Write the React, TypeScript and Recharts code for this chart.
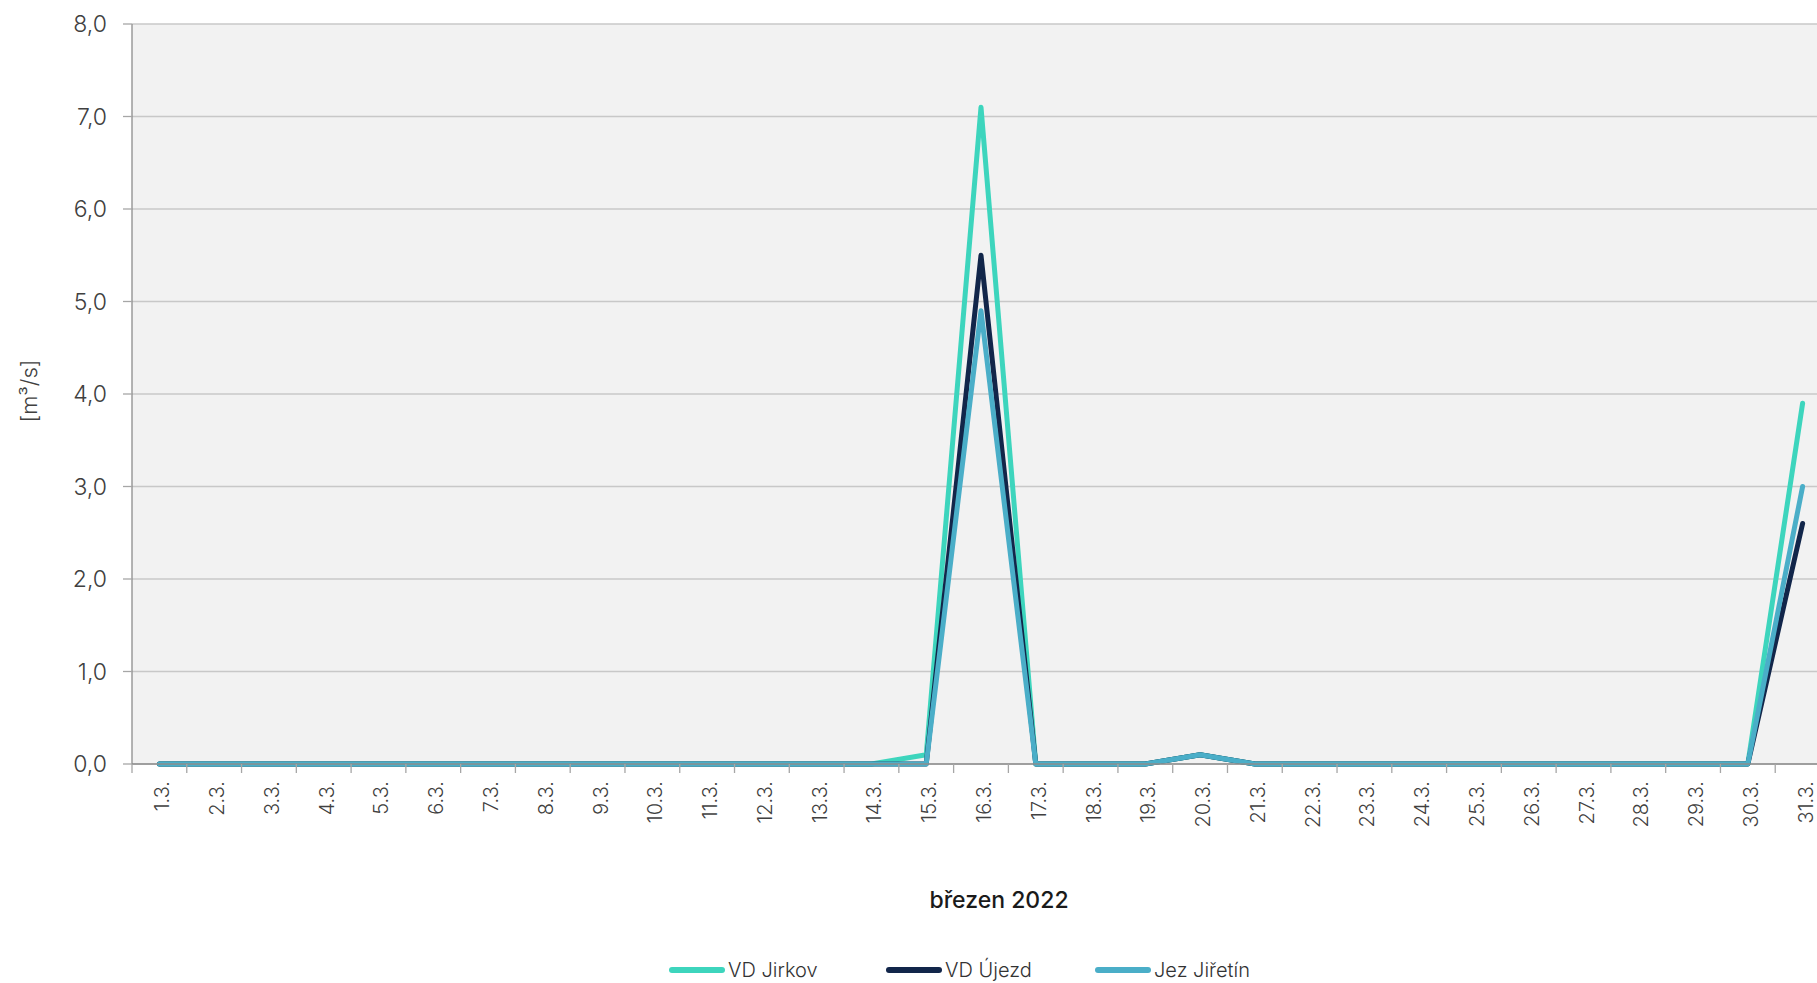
import { LineChart, Line, XAxis, YAxis, CartesianGrid, Legend, Label } from "recharts";

const days = [
  "1.3.", "2.3.", "3.3.", "4.3.", "5.3.", "6.3.", "7.3.", "8.3.", "9.3.", "10.3.",
  "11.3.", "12.3.", "13.3.", "14.3.", "15.3.", "16.3.", "17.3.", "18.3.", "19.3.", "20.3.",
  "21.3.", "22.3.", "23.3.", "24.3.", "25.3.", "26.3.", "27.3.", "28.3.", "29.3.", "30.3.", "31.3.",
];

const seriesNames = ["VD Jirkov", "VD Újezd", "Jez Jiřetín"];

const jirkov = [0, 0, 0, 0, 0, 0, 0, 0, 0, 0, 0, 0, 0, 0, 0.1, 7.1, 0, 0, 0, 0.1, 0, 0, 0, 0, 0, 0, 0, 0, 0, 0, 3.9];
const ujezd = [0, 0, 0, 0, 0, 0, 0, 0, 0, 0, 0, 0, 0, 0, 0, 5.5, 0, 0, 0, 0.1, 0, 0, 0, 0, 0, 0, 0, 0, 0, 0, 2.6];
const jiretin = [0, 0, 0, 0, 0, 0, 0, 0, 0, 0, 0, 0, 0, 0, 0, 4.9, 0, 0, 0, 0.1, 0, 0, 0, 0, 0, 0, 0, 0, 0, 0, 3.0];

const yTicks = [0, 1, 2, 3, 4, 5, 6, 7, 8];

const data = days.map((day, i) => ({
  day,
  jirkov: jirkov[i],
  ujezd: ujezd[i],
  jiretin: jiretin[i],
}));

const FONT = "Inter, 'Open Sans', sans-serif";
const PLOT_W = 1698;
const BAND = PLOT_W / days.length;

function DayTick({ x, y, payload }: { x?: number; y?: number; payload?: { value: string } }) {
  const tx = (x ?? 0) + 10;
  const ty = y ?? 0;
  const bx = (x ?? 0) - BAND / 2;
  return (
    <g>
      <line x1={bx} x2={bx} y1={ty - 17} y2={ty - 8} stroke="#a6a6a6" strokeWidth={1.3} />
      <text
        x={tx}
        y={ty}
        transform={`rotate(-90 ${tx} ${ty})`}
        textAnchor="end"
        fontFamily={FONT}
        fontWeight={300}
        fontSize={20}
        fill="#404040"
      >
        {payload?.value}
      </text>
    </g>
  );
}

function LegendRow({ payload }: { payload?: { value: string; color?: string }[] }) {
  const widths = [217, 209, 200];
  const items = [...(payload ?? [])].sort(
    (a, b) => seriesNames.indexOf(a.value) - seriesNames.indexOf(b.value)
  );
  return (
    <div style={{ display: "flex", alignItems: "center", height: 26 }}>
      {items.map((p, i) => (
        <div key={p.value} style={{ display: "flex", alignItems: "center", width: widths[i] }}>
          <span style={{ display: "inline-block", width: 56, height: 6, borderRadius: 3, background: p.color, marginRight: 3 }} />
          <span style={{ fontFamily: FONT, fontWeight: 300, fontSize: 20, color: "#333" }}>{p.value}</span>
        </div>
      ))}
    </div>
  );
}

export default function App() {
  return (
    <div style={{ position: "fixed", left: 0, top: 0, width: 1817, height: 983, overflow: "hidden", background: "#fff" }}>
      <LineChart width={1840} height={983} data={data} margin={{ top: 24, right: 10, left: 0, bottom: 69 }}>
        <CartesianGrid vertical={false} stroke="#c8c8c8" strokeWidth={1.3} fill="#f2f2f2" />
        <XAxis
          dataKey="day"
          interval={0}
          height={150}
          padding={{ left: BAND / 2, right: BAND / 2 }}
          tickSize={9}
          tickMargin={8}
          tickLine={false}
          axisLine={{ stroke: "#8c8c8c", strokeWidth: 1.3 }}
          tick={<DayTick />}
        >
          <Label
            value="březen 2022"
            position="insideBottom"
            offset={6}
            dx={18}
            style={{ fontFamily: FONT, fontWeight: 500, fontSize: 23, fill: "#1a1a1a" }}
          />
        </XAxis>
        <YAxis
          width={132}
          domain={[0, 8]}
          ticks={yTicks}
          tickSize={9}
          tickMargin={16}
          tickFormatter={(v: number) => v.toFixed(1).replace(".", ",")}
          tick={{ fontFamily: FONT, fontWeight: 300, fontSize: 23, fill: "#404040" }}
          tickLine={{ stroke: "#a6a6a6", strokeWidth: 1.3 }}
          axisLine={{ stroke: "#8c8c8c", strokeWidth: 1.3 }}
        >
          <Label
            content={() => (
              <text
                x={37}
                y={391}
                transform="rotate(-90 37 391)"
                textAnchor="middle"
                fontFamily={FONT}
                fontWeight={300}
                fontSize={22}
                fill="#404040"
              >
                [m³/s]
              </text>
            )}
          />
        </YAxis>
        <Legend
          verticalAlign="middle"
          align="center"
          wrapperStyle={{ top: 957, left: 669, width: 700 }}
          content={<LegendRow />}
        />
        <Line type="linear" dataKey="jirkov" name={seriesNames[0]} stroke="#3dd5bd" strokeWidth={5} dot={false} strokeLinecap="round" strokeLinejoin="round" isAnimationActive={false} />
        <Line type="linear" dataKey="ujezd" name={seriesNames[1]} stroke="#12264a" strokeWidth={5} dot={false} strokeLinecap="round" strokeLinejoin="round" isAnimationActive={false} />
        <Line type="linear" dataKey="jiretin" name={seriesNames[2]} stroke="#4aaec8" strokeWidth={5} dot={false} strokeLinecap="round" strokeLinejoin="round" isAnimationActive={false} />
      </LineChart>
    </div>
  );
}
